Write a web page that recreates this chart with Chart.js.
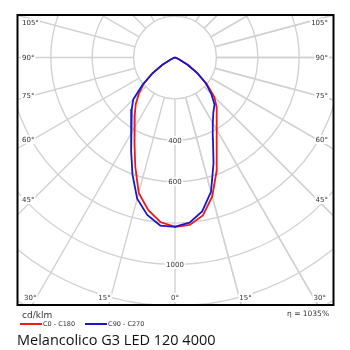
<!DOCTYPE html>
<html><head><meta charset="utf-8">
<script src="https://cdn.jsdelivr.net/npm/chart.js@4/dist/chart.umd.min.js"></script>
<style>
html,body{margin:0;padding:0;background:#fff;}
#wrap{position:relative;width:350px;height:350px;overflow:hidden;}
canvas{position:absolute;left:0;top:0;}
.t{position:absolute;white-space:nowrap;color:#333;font-family:"DejaVu Sans",sans-serif;line-height:1;}
#legend{position:absolute;left:20px;top:320px;display:flex;align-items:center;font-family:"DejaVu Sans",sans-serif;font-size:6.5px;color:#333;white-space:nowrap;}
#legend .item{display:flex;align-items:center;margin-right:10px;}
#legend .ln{display:inline-block;width:22px;height:2px;margin-right:1px;}
</style></head><body>
<div id="wrap">
<canvas id="c" width="350" height="350"></canvas>
<div class="t" id="unit" style="left:22px;top:311px;font-size:9px;">cd/klm</div>
<div id="legend"></div>
<div class="t" id="eta" style="left:287px;top:310px;font-size:7.5px;">η = 1035%</div>
<div class="t" id="title" style="left:17px;top:333px;font-size:14.5px;color:#111;font-family:'Open Sans',sans-serif;">Melancolico G3 LED 120 4000</div>
</div>
<script>
// ---- data (cd/klm), angle from nadir in degrees ----
const angles = [0,5,10,15,20,25,30,35,40,45,50,55,60,65,70,75,80,85,90];
const c0   = [819,812,775,695,586,477,403,351,313,268,200,135,75,25,8,3,0,0,0];   // red, right half
const c180 = [817,799,748,677,561,461,393,339,295,247,197,133,70,25,8,3,0,0,0];   // red, left half
const c90  = [817,801,755,672,544,434,365,323,297,248,195,130,70,25,8,3,0,0,0];   // blue, right half
const c270 = [818,815,772,706,601,500,425,369,325,285,205,133,70,25,8,3,0,0,0];   // blue, left half
const ringValues = [200,400,600,800,1000,1200,1400,1600,1800];
const ringLabels = [400,600,1000];
const spokeAngles = Array.from({length:24},(_,i)=>i*15);
const angleLabels = [0,15,30,45,60,75,90,105];
const seriesNames = ['C0 - C180','C90 - C270'];

function halfToPoints(vals, side){
  return angles.map((a,i)=>{
    const t = a*Math.PI/180;
    return {x: side*vals[i]*Math.sin(t), y: -vals[i]*Math.cos(t)};
  });
}
function curve(left, right){
  return halfToPoints(left,-1).reverse().concat(halfToPoints(right,1));
}

const PX_PER_UNIT = 0.207;
const padL=17, padR=17, padT=15, padB=45, W=350, H=350;
const cxPix = 175, cyPix = 57.5;

const polarGrid = {
  id:'polarGrid',
  beforeDatasetsDraw(chart){
    const {ctx, chartArea:a, scales:{x,y}} = chart;
    const cx = x.getPixelForValue(0), cy = y.getPixelForValue(0);
    ctx.save();
    ctx.beginPath(); ctx.rect(a.left,a.top,a.right-a.left,a.bottom-a.top); ctx.clip();
    ctx.strokeStyle='#d2d2d2'; ctx.lineWidth=1.4;
    ringValues.forEach(v=>{
      const r = x.getPixelForValue(v)-cx;
      ctx.beginPath(); ctx.arc(cx,cy,r,0,Math.PI*2); ctx.stroke();
    });
    const inner = ringValues[0];
    spokeAngles.forEach(d=>{
      const t=d*Math.PI/180, s=-Math.sin(t), c=-Math.cos(t);
      ctx.beginPath();
      ctx.moveTo(x.getPixelForValue(inner*s), y.getPixelForValue(inner*c));
      ctx.lineTo(x.getPixelForValue(4000*s), y.getPixelForValue(4000*c));
      ctx.stroke();
      if(d>0 && d<180){
        ctx.beginPath();
        ctx.moveTo(x.getPixelForValue(-inner*s), y.getPixelForValue(inner*c));
        ctx.lineTo(x.getPixelForValue(-4000*s), y.getPixelForValue(4000*c));
        ctx.stroke();
      }
    });
    // labels
    ctx.font='7px "DejaVu Sans"';
    ctx.textBaseline='middle';
    function lab(txt,px,py,align){
      const w=ctx.measureText(txt).width;
      let l = align==='left'?px:(align==='right'?px-w:px-w/2);
      ctx.fillStyle='#fff'; ctx.fillRect(l-1,py-4.5,w+2,9);
      ctx.fillStyle='#333'; ctx.textAlign='left'; ctx.fillText(txt,l,py+0.5);
    }
    ringLabels.forEach(v=> lab(String(v), cx, y.getPixelForValue(-v), 'center'));
    const bottomY = a.bottom-7.5;
    angleLabels.forEach(d=>{
      const t=d*Math.PI/180;
      [-1,1].forEach(side=>{
        if(d===0 && side===1) return;
        const edgeX = side<0 ? a.left+16 : a.right-16;
        const X = x.getValueForPixel(edgeX);
        let py = null;
        if(Math.sin(t)>1e-6){
          const r = Math.abs(X)/Math.sin(t);
          py = y.getPixelForValue(-r*Math.cos(t));
        }
        const txt = d+'°';
        if(py!==null && py<=a.bottom-9){
          py = Math.max(py, a.top+8);
          lab(txt, side<0?a.left+5:a.right-5, py, side<0?'left':'right');
        } else {
          const Y = y.getValueForPixel(bottomY);
          const r = -Y/Math.cos(t);
          const px = x.getPixelForValue(side*r*Math.sin(t));
          lab(txt, px, bottomY, d===0?'center':(side<0?'right':'left'));
        }
      });
    });
    ctx.restore();
  },
  afterDraw(chart){
    const {ctx, chartArea:a} = chart;
    ctx.save(); ctx.strokeStyle='#000'; ctx.lineWidth=2;
    ctx.strokeRect(a.left+0.5,a.top,a.right-a.left,a.bottom-a.top);
    ctx.restore();
  }
};

const xHalf = (cxPix-padL)/PX_PER_UNIT;
const yMax = (cyPix-padT)/PX_PER_UNIT;
const yMin = -((H-padB)-cyPix)/PX_PER_UNIT;

const chart = new Chart(document.getElementById('c'),{
  type:'scatter',
  data:{datasets:[
    {label:seriesNames[0], data:curve(c180,c0), showLine:true, borderColor:'#ee1a1a', borderWidth:1.8, pointRadius:0, order:2, tension:0},
    {label:seriesNames[1], data:curve(c270,c90), showLine:true, borderColor:'#1818c8', borderWidth:1.8, pointRadius:0, order:1, tension:0}
  ]},
  options:{
    responsive:false, animation:false, devicePixelRatio:1,
    layout:{padding:{left:padL,right:padR,top:padT,bottom:padB}},
    scales:{
      x:{type:'linear',display:false,min:-xHalf,max:xHalf},
      y:{type:'linear',display:false,min:yMin,max:yMax}
    },
    plugins:{legend:{display:false},tooltip:{enabled:false}}
  },
  plugins:[polarGrid]
});

// HTML legend generated from datasets
const lg=document.getElementById('legend');
chart.data.datasets.forEach(ds=>{
  const it=document.createElement('div'); it.className='item';
  const ln=document.createElement('span'); ln.className='ln'; ln.style.background=ds.borderColor;
  const tx=document.createElement('span'); tx.textContent=ds.label;
  it.appendChild(ln); it.appendChild(tx); lg.appendChild(it);
});
</script>
</body></html>
